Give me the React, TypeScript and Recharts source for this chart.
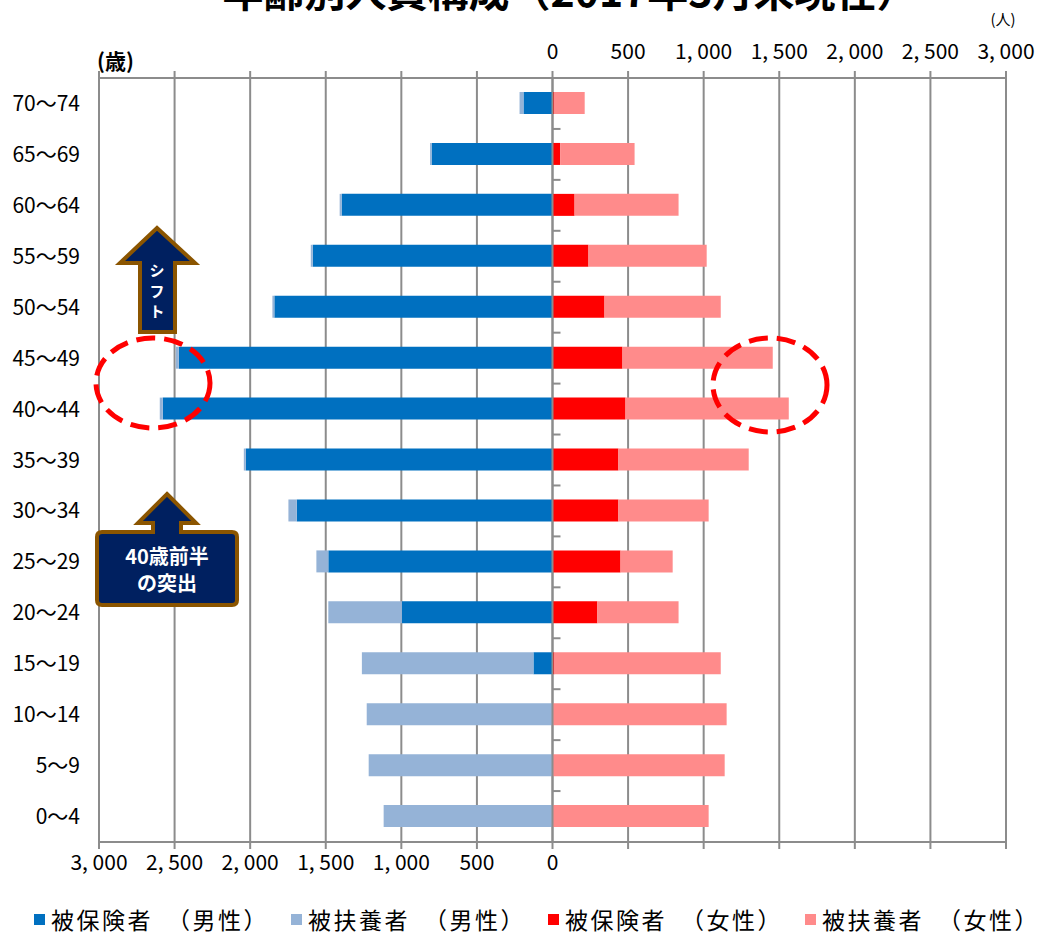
import { Bar, BarChart, CartesianGrid, ReferenceLine, XAxis, YAxis } from "recharts";

const ageGroups = [
  "70～74", "65～69", "60～64", "55～59", "50～54", "45～49", "40～44", "35～39",
  "30～34", "25～29", "20～24", "15～19", "10～14", "5～9", "0～4",
];
const maleInsured = [192, 800, 1395, 1586, 1840, 2472, 2578, 2029, 1692, 1483, 996, 126, 0, 0, 0];
const maleDependent = [26, 10, 13, 13, 13, 20, 20, 13, 55, 79, 487, 1135, 1229, 1216, 1117];
const femaleInsured = [13, 52, 146, 238, 344, 463, 483, 436, 436, 450, 297, 13, 0, 0, 0];
const femaleDependent = [200, 491, 688, 782, 769, 994, 1080, 862, 597, 345, 537, 1100, 1152, 1139, 1033];
const axisTicks = [-3000, -2500, -2000, -1500, -1000, -500, 0, 500, 1000, 1500, 2000, 2500, 3000];

const BLUE = "#0070C0";
const LIGHT_BLUE = "#95B3D7";
const RED = "#FF0000";
const PINK = "#FF8B8B";
const GRID = "#8c8c8c";
const NAVY = "#002060";
const BROWN = "#8B5500";
const FONT = "'Noto Sans CJK JP', 'Noto Sans', sans-serif";

const legendItems = [
  { label: "被保険者　（男性）", color: BLUE },
  { label: "被扶養者　（男性）", color: LIGHT_BLUE },
  { label: "被保険者　（女性）", color: RED },
  { label: "被扶養者　（女性）", color: PINK },
];

const chartData = ageGroups.map((age, i) => ({
  age,
  maleInsured: -maleInsured[i],
  maleDependent: -maleDependent[i],
  femaleInsured: femaleInsured[i],
  femaleDependent: femaleDependent[i],
}));

function formatPeople(value: number): string {
  return Math.abs(value).toLocaleString("en-US").replace(",", ", ");
}

// top axis only labels the female side
function TopTick({ x, y, payload }: any) {
  if (Number(payload.value) < 0) return <g />;
  return (
    <text x={x} y={y} textAnchor="middle" fontSize={21} fontFamily={FONT} fill="#000">
      {formatPeople(Number(payload.value))}
    </text>
  );
}

// bottom axis only labels the male side
function BottomTick({ x, y, payload }: any) {
  if (Number(payload.value) > 0) return <g />;
  return (
    <text x={x} y={y + 15} textAnchor="middle" fontSize={21} fontFamily={FONT} fill="#000">
      {formatPeople(Number(payload.value))}
    </text>
  );
}

function AgeTick({ x, y, payload }: any) {
  return (
    <text x={x} y={y} dy="0.36em" textAnchor="end" fontSize={21} fontFamily={FONT} fill="#000">
      {payload.value}
    </text>
  );
}

// vertical category axis at zero, with short marks between the age bands
function ZeroAxis({ x1, y1, x2, y2 }: any) {
  const step = (y2 - y1) / ageGroups.length;
  return (
    <g>
      <line x1={x1} y1={y1} x2={x2} y2={y2} stroke={GRID} strokeWidth={2} />
      {ageGroups.map((age, i) => (
        <line
          key={age}
          x1={x1}
          x2={x1 + 8}
          y1={y1 + step * (i + 1)}
          y2={y1 + step * (i + 1)}
          stroke={GRID}
          strokeWidth={2}
        />
      ))}
    </g>
  );
}

function Annotations() {
  return (
    <svg
      width={1040}
      height={937}
      style={{ position: "absolute", left: 0, top: 0, pointerEvents: "none" }}
    >
      <text x={570} y={7} textAnchor="middle" fontSize={41} fontWeight="bold" fontFamily={FONT}>
        年齢別人員構成（2017年3月末現在）
      </text>
      <text x={1003} y={25} textAnchor="middle" fontSize={15} fontFamily={FONT}>
        (人)
      </text>
      <text x={97} y={69} fontSize={21} fontWeight="bold" fontFamily={FONT}>
        (歳)
      </text>

      <path
        d="M157,228 L195,263 L175,263 L175,332 L140,332 L140,263 L120,263 Z"
        fill={NAVY}
        stroke={BROWN}
        strokeWidth={4}
      />
      <text textAnchor="middle" fontSize={15} fontWeight="bold" fontFamily={FONT} fill="#fff">
        <tspan x={157} y={276}>シ</tspan>
        <tspan x={157} y={297}>フ</tspan>
        <tspan x={157} y={317}>ト</tspan>
      </text>

      <path
        d="M167,494 L196,523 L181,523 L181,532 L232,532 Q237,532 237,537 L237,600 Q237,605 232,605 L102,605 Q97,605 97,600 L97,537 Q97,532 102,532 L153,532 L153,523 L138,523 Z"
        fill={NAVY}
        stroke={BROWN}
        strokeWidth={4}
      />
      <text textAnchor="middle" fontSize={20} fontWeight="bold" fontFamily={FONT} fill="#fff">
        <tspan x={167} y={564}>40歳前半</tspan>
        <tspan x={167} y={591}>の突出</tspan>
      </text>

      <ellipse cx={153} cy={383} rx={57} ry={45} fill="none" stroke={RED} strokeWidth={5} strokeDasharray="19 9" />
      <ellipse cx={770} cy={385} rx={57} ry={47} fill="none" stroke={RED} strokeWidth={5} strokeDasharray="19 9" />
    </svg>
  );
}

function PopulationLegend() {
  return (
    <div
      style={{
        position: "absolute",
        left: 34,
        top: 905,
        width: 1006,
        display: "flex",
        fontFamily: FONT,
        fontSize: 23,
        lineHeight: "28px",
        letterSpacing: 2.5,
        whiteSpace: "nowrap",
      }}
    >
      {legendItems.map((item) => (
        <div key={item.label} style={{ width: 257, flexShrink: 0, display: "flex", alignItems: "center" }}>
          <span style={{ width: 11, height: 11, background: item.color, marginRight: 6, flexShrink: 0 }} />
          <span>{item.label}</span>
        </div>
      ))}
    </div>
  );
}

export default function App() {
  return (
    <div style={{ position: "absolute", left: 0, top: 0, width: 1040, height: 937, background: "#fff", overflow: "hidden" }}>
      <BarChart
        width={1040}
        height={937}
        data={chartData}
        layout="vertical"
        stackOffset="sign"
        barSize={22}
        margin={{ top: 38, right: 34, bottom: 55, left: 0 }}
      >
        <CartesianGrid xAxisId="top" horizontal={false} stroke={GRID} strokeWidth={2} />
        <XAxis
          xAxisId="top"
          orientation="top"
          type="number"
          domain={[-3000, 3000]}
          allowDataOverflow
          ticks={axisTicks}
          interval={0}
          height={40}
          axisLine={{ stroke: GRID, strokeWidth: 2 }}
          tickLine={{ stroke: GRID, strokeWidth: 2 }}
          tickSize={7}
          tickMargin={12}
          tick={<TopTick />}
        />
        <XAxis
          xAxisId="bottom"
          orientation="bottom"
          type="number"
          domain={[-3000, 3000]}
          allowDataOverflow
          ticks={axisTicks}
          interval={0}
          height={40}
          axisLine={{ stroke: GRID, strokeWidth: 2 }}
          tickLine={{ stroke: GRID, strokeWidth: 2 }}
          tickSize={7}
          tickMargin={6}
          tick={<BottomTick />}
        />
        <YAxis
          type="category"
          dataKey="age"
          width={99}
          interval={0}
          axisLine={false}
          tickLine={false}
          tickSize={0}
          tickMargin={19}
          tick={<AgeTick />}
        />
        <Bar dataKey="maleInsured" stackId="pop" xAxisId="top" fill={BLUE} isAnimationActive={false} />
        <Bar dataKey="maleDependent" stackId="pop" xAxisId="top" fill={LIGHT_BLUE} isAnimationActive={false} />
        <Bar dataKey="femaleInsured" stackId="pop" xAxisId="top" fill={RED} isAnimationActive={false} />
        <Bar dataKey="femaleDependent" stackId="pop" xAxisId="top" fill={PINK} isAnimationActive={false} />
        <ReferenceLine x={0} xAxisId="top" shape={<ZeroAxis />} />
      </BarChart>
      <Annotations />
      <PopulationLegend />
    </div>
  );
}
